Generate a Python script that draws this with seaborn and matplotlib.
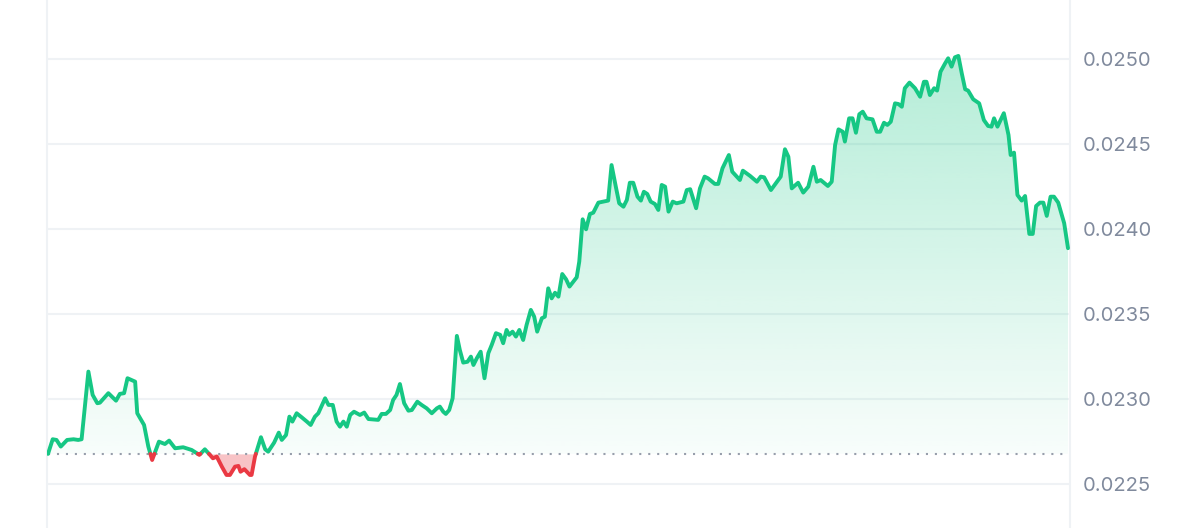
import numpy as np
import pandas as pd
import seaborn as sns
import matplotlib.pyplot as plt
from matplotlib.colors import to_rgb

# price over the last 24 hours (hours since open, price)
times = [0.00, 0.11, 0.20, 0.30, 0.45, 0.60, 0.71, 0.79, 0.95, 1.05,
         1.16, 1.22, 1.42, 1.60, 1.69, 1.79, 1.87, 2.05, 2.10, 2.26,
         2.36, 2.45, 2.61, 2.75, 2.85, 2.99, 3.18, 3.38, 3.50, 3.56,
         3.69, 3.81, 3.88, 3.97, 4.09, 4.20, 4.28, 4.40, 4.48, 4.53,
         4.62, 4.75, 4.79, 4.87, 5.01, 5.11, 5.18, 5.32, 5.43, 5.50,
         5.60, 5.68, 5.75, 5.85, 5.97, 6.09, 6.18, 6.28, 6.36, 6.52,
         6.60, 6.70, 6.79, 6.87, 6.95, 7.03, 7.11, 7.20, 7.34, 7.44,
         7.54, 7.77, 7.85, 7.95, 8.05, 8.12, 8.20, 8.28, 8.38, 8.48,
         8.56, 8.69, 8.79, 8.91, 9.03, 9.15, 9.22, 9.30, 9.36, 9.44,
         9.52, 9.62, 9.69, 9.77, 9.87, 9.95, 10.01, 10.09, 10.18, 10.27,
         10.36, 10.44, 10.54, 10.64, 10.71, 10.79, 10.85, 10.93, 11.01, 11.09,
         11.18, 11.26, 11.36, 11.44, 11.51, 11.62, 11.69, 11.77, 11.85, 11.93,
         12.01, 12.10, 12.19, 12.27, 12.36, 12.44, 12.50, 12.58, 12.66, 12.75,
         12.83, 12.95, 13.07, 13.18, 13.26, 13.36, 13.44, 13.54, 13.62, 13.69,
         13.77, 13.87, 13.95, 14.02, 14.10, 14.18, 14.28, 14.36, 14.44, 14.52,
         14.60, 14.70, 14.79, 14.95, 15.03, 15.11, 15.25, 15.34, 15.45, 15.53,
         15.69, 15.77, 15.87, 16.02, 16.10, 16.28, 16.35, 16.52, 16.68, 16.77,
         16.85, 17.01, 17.24, 17.34, 17.42, 17.50, 17.65, 17.77, 17.89, 18.01,
         18.09, 18.18, 18.35, 18.44, 18.52, 18.60, 18.70, 18.75, 18.85, 18.93,
         19.01, 19.09, 19.17, 19.26, 19.40, 19.50, 19.58, 19.67, 19.75, 19.83,
         19.93, 20.01, 20.09, 20.16, 20.27, 20.40, 20.52, 20.61, 20.67, 20.75,
         20.85, 20.92, 21.00, 21.11, 21.18, 21.26, 21.34, 21.42, 21.50, 21.58,
         21.65, 21.77, 21.91, 22.02, 22.12, 22.20, 22.26, 22.34, 22.49, 22.60,
         22.65, 22.73, 22.81, 22.91, 22.99, 23.09, 23.17, 23.25, 23.34, 23.42,
         23.50, 23.59, 23.67, 23.77, 23.91, 24.00]

prices = [0.022677, 0.022763, 0.022759, 0.022720, 0.022759, 0.022763, 0.022759, 0.022763, 0.023161, 0.023024,
          0.022975, 0.022978, 0.023034, 0.022990, 0.023030, 0.023034, 0.023122, 0.023102, 0.022916, 0.022847,
          0.022720, 0.022641, 0.022749, 0.022735, 0.022755, 0.022710, 0.022716, 0.022700, 0.022681, 0.022671,
          0.022704, 0.022671, 0.022651, 0.022661, 0.022602, 0.022553, 0.022553, 0.022602, 0.022606, 0.022572,
          0.022587, 0.022553, 0.022553, 0.022661, 0.022775, 0.022704, 0.022690, 0.022743, 0.022802, 0.022759,
          0.022788, 0.022896, 0.022867, 0.022916, 0.022892, 0.022867, 0.022847, 0.022896, 0.022916, 0.023004,
          0.022965, 0.022965, 0.022867, 0.022837, 0.022867, 0.022837, 0.022906, 0.022925, 0.022906, 0.022920,
          0.022882, 0.022877, 0.022912, 0.022912, 0.022935, 0.022994, 0.023024, 0.023088, 0.022975, 0.022931,
          0.022935, 0.022984, 0.022965, 0.022945, 0.022916, 0.022945, 0.022955, 0.022925, 0.022912, 0.022935,
          0.023004, 0.023371, 0.023288, 0.023214, 0.023219, 0.023249, 0.023200, 0.023240, 0.023278, 0.023122,
          0.023269, 0.023318, 0.023387, 0.023377, 0.023328, 0.023406, 0.023377, 0.023396, 0.023367, 0.023406,
          0.023347, 0.023435, 0.023524, 0.023484, 0.023396, 0.023475, 0.023484, 0.023651, 0.023592, 0.023625,
          0.023602, 0.023735, 0.023704, 0.023661, 0.023690, 0.023716, 0.023808, 0.024057, 0.023998, 0.024088,
          0.024096, 0.024155, 0.024161, 0.024167, 0.024376, 0.024249, 0.024151, 0.024131, 0.024171, 0.024272,
          0.024272, 0.024190, 0.024167, 0.024219, 0.024206, 0.024161, 0.024147, 0.024112, 0.024259, 0.024249,
          0.024102, 0.024161, 0.024151, 0.024161, 0.024229, 0.024234, 0.024122, 0.024239, 0.024308, 0.024298,
          0.024265, 0.024265, 0.024357, 0.024435, 0.024337, 0.024288, 0.024343, 0.024312, 0.024278, 0.024308,
          0.024304, 0.024229, 0.024308, 0.024469, 0.024425, 0.024239, 0.024272, 0.024214, 0.024249, 0.024366,
          0.024278, 0.024288, 0.024253, 0.024278, 0.024494, 0.024586, 0.024572, 0.024514, 0.024651, 0.024651,
          0.024566, 0.024675, 0.024690, 0.024651, 0.024645, 0.024572, 0.024572, 0.024625, 0.024612, 0.024631,
          0.024739, 0.024735, 0.024719, 0.024828, 0.024861, 0.024828, 0.024778, 0.024866, 0.024866, 0.024788,
          0.024828, 0.024814, 0.024925, 0.024975, 0.025004, 0.024955, 0.025010, 0.025018, 0.024916, 0.024822,
          0.024814, 0.024763, 0.024739, 0.024641, 0.024606, 0.024602, 0.024651, 0.024602, 0.024681, 0.024553,
          0.024435, 0.024449, 0.024200, 0.024167, 0.024194, 0.023971, 0.023971, 0.024135, 0.024155, 0.024155,
          0.024077, 0.024190, 0.024190, 0.024155, 0.024034, 0.023887]

open_price = 0.022677
y_ticks = [0.0225, 0.0230, 0.0235, 0.0240, 0.0245, 0.0250]

GREEN = '#16c784'
RED = '#ea3943'
GRID = '#eff2f5'
TEXT = '#808a9d'

# split the series wherever it crosses the opening price, so each side gets its own colour
rows = []
seg = 0
for i in range(len(times)):
    t, p = times[i], prices[i]
    side = 'up' if p >= open_price else 'down'
    if i > 0:
        t0, p0 = times[i - 1], prices[i - 1]
        side0 = 'up' if p0 >= open_price else 'down'
        if side0 != side:
            tc = t0 + (open_price - p0) / (p - p0) * (t - t0)
            rows.append((tc, open_price, seg, side0))
            seg += 1
            rows.append((tc, open_price, seg, side))
    rows.append((t, p, seg, side))
df = pd.DataFrame(rows, columns=['time', 'price', 'seg', 'side'])

sns.set_theme(style='white')
plt.rcParams['font.family'] = ['Inter', 'DejaVu Sans']

fig = plt.figure(figsize=(12, 5.28), dpi=100)
ax = fig.add_axes([47 / 1200, 0, 1023 / 1200, 1])

t_all = df['time'].values
p_all = df['price'].values

# green gradient area between the line and the opening price
clip = ax.fill_between(t_all, open_price, np.maximum(p_all, open_price),
                       facecolor='none', edgecolor='none')
grad = np.zeros((256, 1, 4))
grad[..., :3] = to_rgb(GREEN)
grad[..., 3] = np.linspace(0.32, 0.03, 256)[:, None]
im = ax.imshow(grad, extent=[t_all.min(), t_all.max(), open_price, max(prices)],
               aspect='auto', origin='upper', zorder=1, interpolation='bilinear')
im.set_clip_path(clip.get_paths()[0], transform=ax.transData)

# red area where the price is under the open
ax.fill_between(t_all, open_price, np.minimum(p_all, open_price),
                color=RED, alpha=0.3, lw=0, zorder=1)

# dotted open-price reference line
ax.hlines(open_price, times[0], times[-1], color='#979eab', lw=1.5,
          linestyles=(0, (1, 3.3)), zorder=2)

sns.lineplot(data=df, x='time', y='price', hue='side', units='seg', estimator=None,
             palette={'up': GREEN, 'down': RED}, linewidth=2.8, legend=False,
             ax=ax, zorder=3, solid_joinstyle='round', solid_capstyle='round')

ax.set_xlim(-0.024, 24.047)
ax.set_ylim(0.022241, 0.025347)
ax.set_xticks([])
ax.set_yticks(y_ticks)
ax.set_yticklabels([f'{v:.4f}' for v in y_ticks])
ax.yaxis.tick_right()
ax.tick_params(axis='y', length=0, pad=9, labelsize=14.5, labelcolor=TEXT)
ax.yaxis.grid(True, color=GRID, lw=1.5)
ax.set_axisbelow(True)
ax.set_xlabel('')
ax.set_ylabel('')

for s in ['top', 'bottom']:
    ax.spines[s].set_visible(False)
for s in ['left', 'right']:
    ax.spines[s].set_color(GRID)
    ax.spines[s].set_linewidth(1.5)

fig.savefig('out.png', dpi=100)
